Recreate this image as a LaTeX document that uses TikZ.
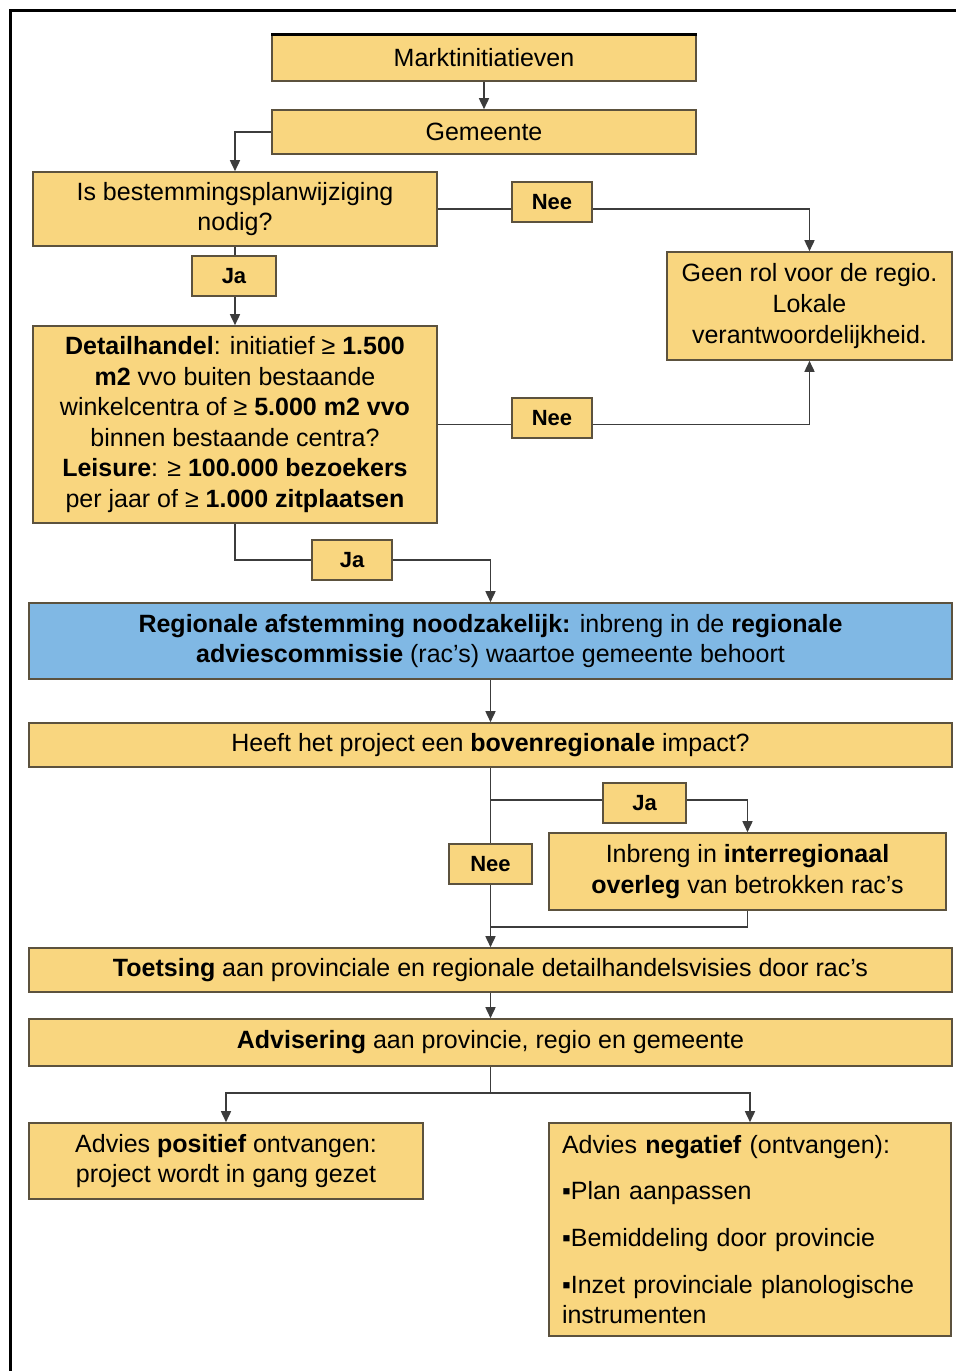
\documentclass[tikz,border=0pt]{standalone}
\usepackage{fontspec}
\setmainfont{Liberation Sans}
\usepackage{xcolor}
\usetikzlibrary{calc,
	positioning,
	shapes,
	shadows,
	backgrounds,
	arrows.meta}

\definecolor{boxfill}{RGB}{249,214,127}
\definecolor{boxline}{RGB}{92,82,62}
\definecolor{regiofill}{RGB}{128,184,228}
\definecolor{connline}{RGB}{60,60,60}

\tikzset{
	box/.style={draw=boxline, fill=boxfill, line width=0.8pt, align=center, inner sep=2pt,
		font=\fontsize{12.5}{15.3}\selectfont,
		drop shadow={shadow xshift=0.7pt, shadow yshift=-0.7pt, fill=black!40, opacity=0.6}},
	answer/.style={box, font=\fontsize{11}{13}\selectfont\bfseries, minimum height=20pt},
	conn/.style={draw=connline, line width=0.8pt},
	arr/.style={conn, -{Triangle[length=5.5pt,width=5pt]}}
}

\begin{document}
\begin{tikzpicture}[x=0.5pt, y=-0.5pt]
	\useasboundingbox (0,0) rectangle (956,1371);
	% frame
	\draw[line width=1.5pt] (10,1371) -- (10,10) -- (956,10);
	% Settings
	\pgfmathsetmacro{\midx}{490.5}
	\pgfmathsetmacro{\fullw}{461.5}
	% /Settings

	% upper part
	\node[box, minimum width=212pt, minimum height=23pt] (markt) at (484,58) {Marktinitiatieven};
	\draw[line width=1.6pt] (markt.north west) -- (markt.north east);
	\node[box, minimum width=212pt, minimum height=22pt] (gem) at (484,132) {Gemeente};
	\node[box, minimum width=202pt, minimum height=37pt] (isbp) at (235,209) {Is bestemmingsplanwijziging\\nodig?};
	\node[box, minimum width=142.5pt, minimum height=54pt] (geen) at (809.5,306) {Geen rol voor de regio.\\Lokale\\verantwoordelijkheid.};
	\node[box, minimum width=202pt, minimum height=98.5pt] (detail) at (235,424.5) {%
		\textbf{Detailhandel}: initiatief ≥ \textbf{1.500}\\
		\textbf{m2} vvo buiten bestaande\\
		winkelcentra of ≥ \textbf{5.000 m2 vvo}\\
		binnen bestaande centra?\\
		\textbf{Leisure}: ≥ \textbf{100.000 bezoekers}\\
		per jaar of ≥ \textbf{1.000 zitplaatsen}};
	\node[answer, minimum width=40pt] (nee1) at (552,202) {Nee};
	\node[answer, minimum width=42pt] (ja1) at (234,276) {Ja};
	\node[answer, minimum width=40pt] (nee2) at (552,418) {Nee};
	\node[answer, minimum width=40pt] (ja2) at (352,560) {Ja};

	% regional part
	\node[box, fill=regiofill, minimum width=\fullw pt, minimum height=38pt] (regio) at (\midx,641) {%
		\textbf{Regionale afstemming noodzakelijk:} inbreng in de \textbf{regionale}\\
		\textbf{adviescommissie} (rac's) waartoe gemeente behoort};
	\node[box, minimum width=\fullw pt, minimum height=22pt] (heeft) at (\midx,745) {Heeft het project een \textbf{bovenregionale} impact?};
	\node[box, minimum width=198.5pt, minimum height=38.5pt] (inbreng) at (747.5,871.5) {Inbreng in \textbf{interregionaal}\\\textbf{overleg} van betrokken rac's};
	\node[answer, minimum width=41.5pt] (ja3) at (644.5,803) {Ja};
	\node[answer, minimum width=41.5pt] (nee3) at (\midx,864) {Nee};
	\node[box, minimum width=\fullw pt, minimum height=22pt] (toets) at (\midx,970) {\textbf{Toetsing} aan provinciale en regionale detailhandelsvisies door rac's};
	\node[box, minimum width=\fullw pt, minimum height=23.5pt] (advis) at (\midx,1042.5) {\textbf{Advisering} aan provincie, regio en gemeente};
	\node[box, minimum width=197pt, minimum height=38pt] (pos) at (226,1161) {Advies \textbf{positief} ontvangen:\\project wordt in gang gezet};
	\node[box, align=left, minimum width=201pt, minimum height=106.5pt, text width=188pt, inner xsep=6.5pt] (neg) at (750,1229.5) {%
		Advies \textbf{negatief} (ontvangen):\\[8pt]
		▪Plan aanpassen\\[8pt]
		▪Bemiddeling door provincie\\[8pt]
		▪Inzet provinciale planologische\\
		instrumenten};

	\coordinate (split1) at (\midx,800);
	\coordinate (join1) at (\midx,927);
	\coordinate (split2) at (\midx,1093);

	\begin{scope}[on background layer]
		\draw[arr] (markt) -- (gem);
		\draw[arr] (gem.west) -| (isbp.north);
		\draw[arr] (isbp.east) -| (geen.north);
		\draw[arr] (isbp.south) -- (detail.north);
		\draw[arr] (detail.east) -| (geen.south);
		\draw[arr] (detail.south) |- (ja2.center) -| (regio.north);
		\draw[arr] (regio) -- (heeft);
		\draw[arr] (heeft) -- (toets);
		\draw[arr] (split1) -- (split1 -| inbreng.north) -- (inbreng.north);
		\draw[conn] (inbreng.south) |- (join1);
		\draw[arr] (toets) -- (advis);
		\draw[conn] (advis.south) -- (split2);
		\draw[arr] (split2) -| (pos.north);
		\draw[arr] (split2) -| (neg.north);
	\end{scope}
\end{tikzpicture}
\end{document}
